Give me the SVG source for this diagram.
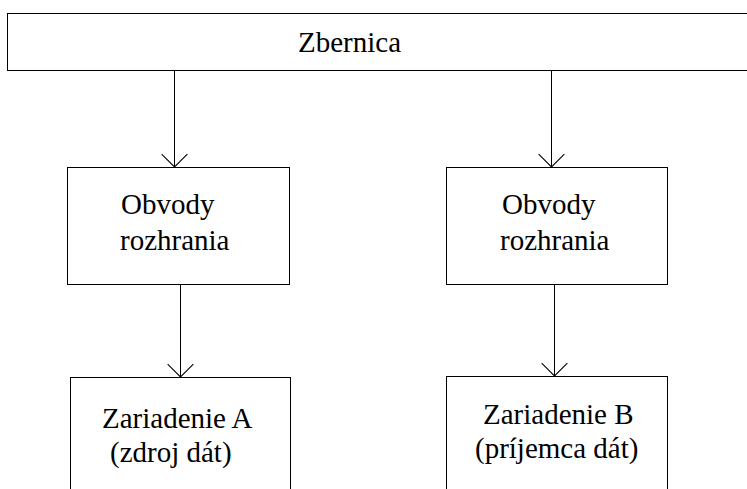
<svg xmlns="http://www.w3.org/2000/svg" width="747" height="489" viewBox="0 0 747 489">
  <style>
    .box { fill: #ffffff; stroke: #000000; stroke-width: 1; }
    .lbl { font-family: "Liberation Serif", "Times New Roman", serif; font-size: 29px; fill: #000000; }
    .wire { fill: none; stroke: #000000; stroke-width: 1; }
  </style>
  <defs>
    <marker id="vhead" markerUnits="userSpaceOnUse" markerWidth="30" markerHeight="30" viewBox="-14 -14 28 16" refX="0" refY="0" orient="auto-start-reverse" overflow="visible">
      <path d="M-12,-12 L0,0 L-12,12" fill="none" stroke="#000000" stroke-width="1"/>
    </marker>
  </defs>
  <rect x="0" y="0" width="747" height="489" fill="#ffffff"/>

  <!-- bus -->
  <g id="bus">
    <rect class="box" x="7.5" y="13.5" width="760" height="57"/>
    <text class="lbl" x="298" y="52">Zbernica</text>
  </g>

  <!-- interface circuits -->
  <g id="iface-a">
    <rect class="box" x="67.5" y="167.5" width="222" height="117"/>
    <text class="lbl" x="121" y="214">Obvody</text>
    <text class="lbl" x="120" y="250">rozhrania</text>
  </g>
  <g id="iface-b">
    <rect class="box" x="446.5" y="167.5" width="221" height="117"/>
    <text class="lbl" x="502" y="214">Obvody</text>
    <text class="lbl" x="500" y="250">rozhrania</text>
  </g>

  <!-- devices -->
  <g id="device-a">
    <rect class="box" x="70.5" y="377.5" width="220" height="130"/>
    <text class="lbl" x="102" y="428">Zariadenie A</text>
    <text class="lbl" x="110" y="462">(zdroj dát)</text>
  </g>
  <g id="device-b">
    <rect class="box" x="446.5" y="376.5" width="221" height="130"/>
    <text class="lbl" x="483" y="424">Zariadenie B</text>
    <text class="lbl" x="475" y="458">(príjemca dát)</text>
  </g>

  <!-- connectors -->
  <g id="connectors">
    <path class="wire" d="M174.5,70.5 V167" marker-end="url(#vhead)"/>
    <path class="wire" d="M551.5,70.5 V167" marker-end="url(#vhead)"/>
    <path class="wire" d="M180.5,284.5 V377" marker-end="url(#vhead)"/>
    <path class="wire" d="M554.5,284.5 V376" marker-end="url(#vhead)"/>
  </g>
</svg>
